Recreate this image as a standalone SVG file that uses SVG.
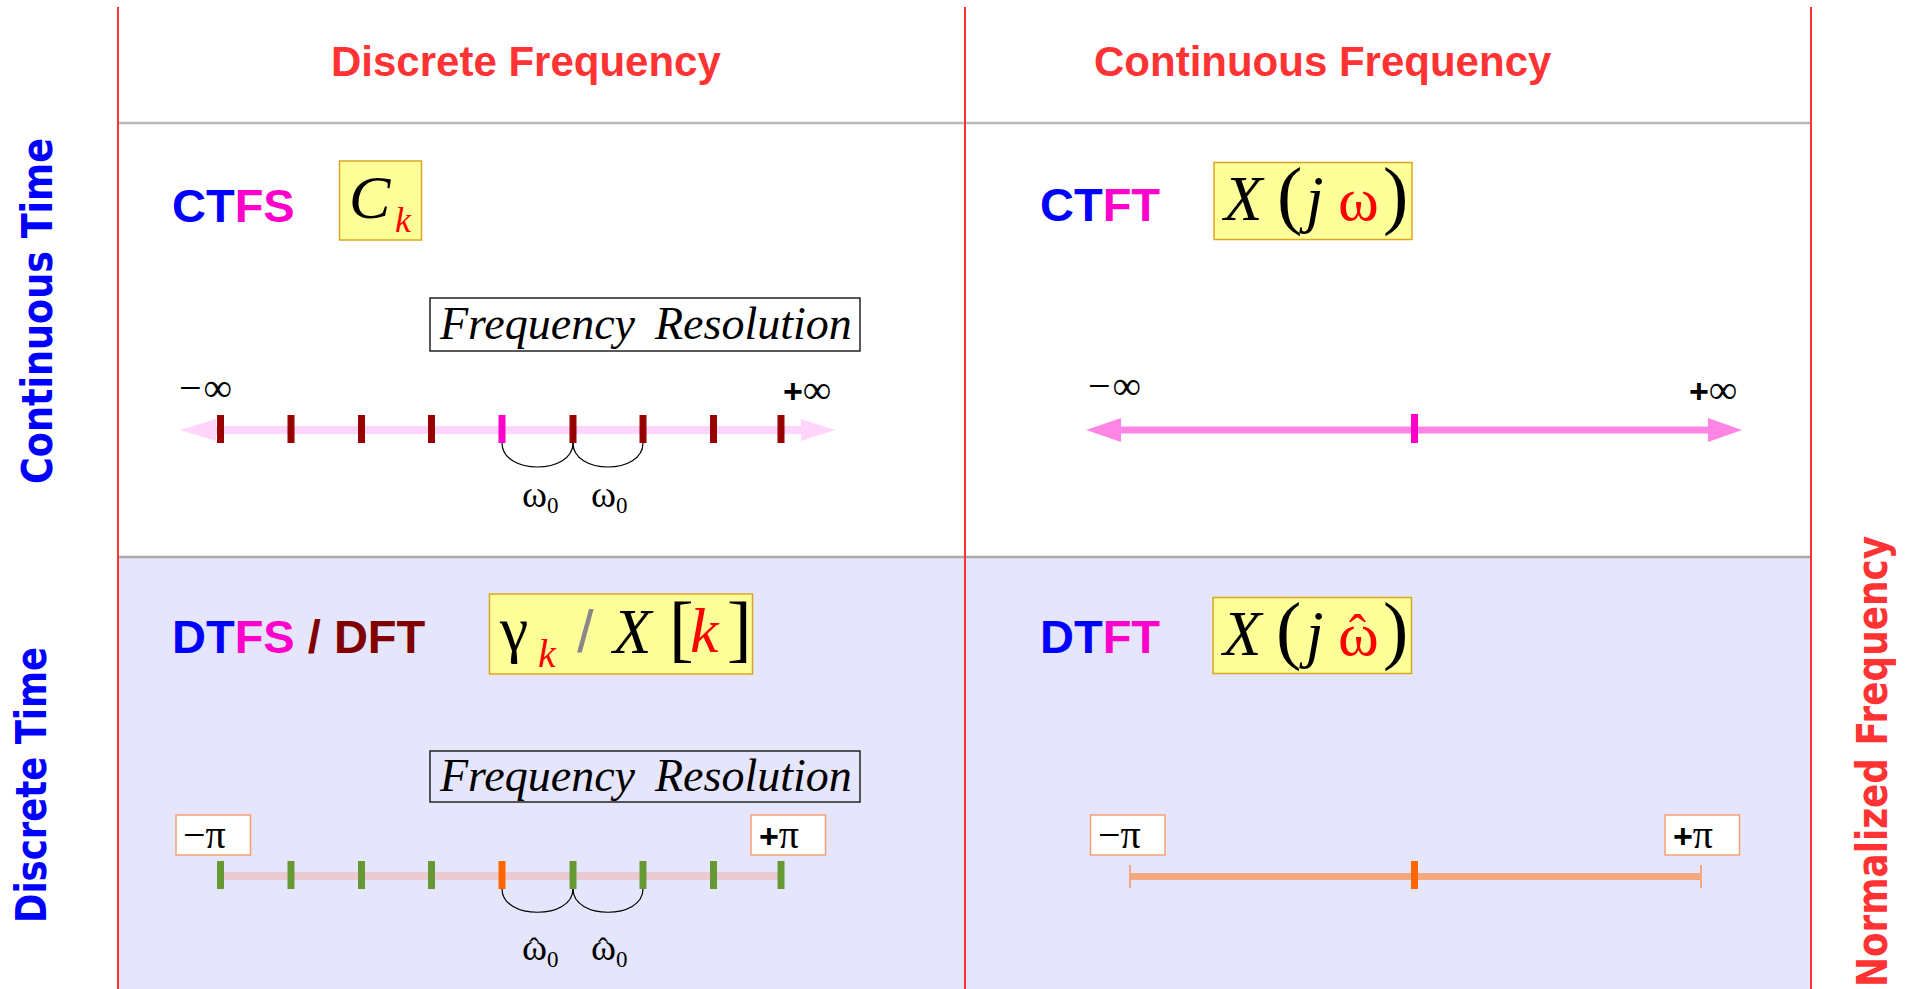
<svg xmlns="http://www.w3.org/2000/svg" width="1908" height="989" viewBox="0 0 1908 989">
<style>
.hdr{font-family:"Liberation Sans",Arial,sans-serif;font-weight:bold;font-size:42px;fill:#FF3333}
.side{font-family:"DejaVu Sans",Verdana,sans-serif;font-weight:bold;font-size:42px}
.name{font-family:"Liberation Sans",Arial,sans-serif;font-weight:bold;font-size:47px}
.m{font-family:"Liberation Serif","Times New Roman",serif}
.it{font-style:italic}
.eqbox{fill:#FFFF99;stroke:#DAA520;stroke-width:1.5}
.pibox{fill:#FFFFFF;stroke:#F7A070;stroke-width:1.5}
.frbox{fill:none;stroke:#222;stroke-width:1.5}
.blue{fill:#0000FF}.mag{fill:#FF00CC}.dred{fill:#800000}.red{fill:#FF0000}
.arc{fill:none;stroke:#000;stroke-width:1.2}
.plus{font-family:"Liberation Sans",Arial,sans-serif;font-weight:bold}
</style>
<rect x="0" y="0" width="1908" height="989" fill="#FFFFFF"/>
<rect x="118" y="557" width="1693" height="432" fill="#E5E5FB"/>
<g id="grid">
<line x1="118" y1="123" x2="1811" y2="123" stroke="#BBBBBB" stroke-width="2.5"/>
<line x1="118" y1="557" x2="1811" y2="557" stroke="#AAAAAA" stroke-width="2.5"/>
<line x1="118" y1="7" x2="118" y2="989" stroke="#FF3333" stroke-width="2"/>
<line x1="965" y1="7" x2="965" y2="989" stroke="#FF3333" stroke-width="2"/>
<line x1="1811" y1="7" x2="1811" y2="989" stroke="#FF3333" stroke-width="2"/>
</g>
<g id="headers">
<text class="hdr" x="331" y="76">Discrete Frequency</text>
<text class="hdr" x="1094" y="76">Continuous Frequency</text>
<text class="side" fill="#0000FF" transform="translate(52,484) rotate(-90)" textLength="346" lengthAdjust="spacingAndGlyphs">Continuous Time</text>
<text class="side" fill="#0000FF" transform="translate(46,923) rotate(-90)" textLength="276" lengthAdjust="spacingAndGlyphs">Discrete Time</text>
<text class="side" fill="#FF3333" transform="translate(1887,987) rotate(-90)" textLength="451" lengthAdjust="spacingAndGlyphs">Normalized Frequency</text>
</g>
<g id="ctfs">
<text class="name" x="172" y="222"><tspan class="blue">CT</tspan><tspan class="mag">FS</tspan></text>
<rect class="eqbox" x="339.5" y="161" width="82" height="79"/>
<text class="m it" x="349" y="218" font-size="62">C</text>
<text class="m it red" x="395" y="232" font-size="36">k</text>
<rect class="frbox" x="430" y="298" width="430" height="53"/>
<text class="m it" x="440" y="339" font-size="46">Frequency</text>
<text class="m it" x="655" y="339" font-size="46">Resolution</text>
<text class="m" x="179" y="401" font-size="40">−<tspan dx="2">∞</tspan></text>
<text class="m" x="783" y="403" font-size="40"><tspan class="plus" font-size="34">+</tspan>∞</text>
<line x1="214" y1="430" x2="803" y2="430" stroke="#FFD5FB" stroke-width="8"/>
<polygon points="180,430 216,419 216,441" fill="#FFD5FB"/>
<polygon points="835,430 801,419 801,441" fill="#FFD5FB"/>
<g fill="#990000">
<rect x="217" y="415" width="7" height="28"/>
<rect x="287.5" y="415" width="7" height="28"/>
<rect x="358" y="415" width="7" height="28"/>
<rect x="428" y="415" width="7" height="28"/>
<rect x="569.5" y="415" width="7" height="28"/>
<rect x="639.5" y="415" width="7" height="28"/>
<rect x="710" y="415" width="7" height="28"/>
<rect x="777.5" y="415" width="7" height="28"/>
</g>
<rect x="498.5" y="415" width="7" height="28" fill="#FF00CC"/>
<path class="arc" d="M502,443 C502,475 573,475 573,443"/>
<path class="arc" d="M573,443 C573,475 643,475 643,443"/>
<text class="m" x="522" y="507" font-size="38">ω<tspan font-size="23" dy="6">0</tspan></text>
<text class="m" x="591" y="507" font-size="38">ω<tspan font-size="23" dy="6">0</tspan></text>
</g>
<g id="ctft">
<text class="name" x="1040" y="221"><tspan class="blue">CT</tspan><tspan class="mag">FT</tspan></text>
<rect class="eqbox" x="1214" y="162.5" width="198" height="77"/>
<text class="m it" x="1224" y="220" font-size="63">X</text>
<text class="m" x="1277" y="220" font-size="76">(</text>
<text class="m it" x="1306" y="220" font-size="63">j</text>
<text class="m red" x="1338" y="220" font-size="62">ω</text>
<text class="m" x="1383" y="220" font-size="76">)</text>
<text class="m" x="1088" y="399" font-size="40">−<tspan dx="2">∞</tspan></text>
<text class="m" x="1689" y="403" font-size="40"><tspan class="plus" font-size="34">+</tspan>∞</text>
<line x1="1119" y1="430" x2="1711" y2="430" stroke="#FF85E5" stroke-width="7"/>
<polygon points="1086,430 1121,418 1121,442" fill="#FF85E5"/>
<polygon points="1742,430 1708,418 1708,442" fill="#FF85E5"/>
<rect x="1411" y="414" width="7" height="29" fill="#FF00CC"/>
</g>
<g id="dtfs">
<text class="name" x="172" y="653"><tspan class="blue">DT</tspan><tspan class="mag">FS</tspan><tspan class="dred"> / DFT</tspan></text>
<rect class="eqbox" x="489.5" y="594" width="263" height="80"/>
<text class="m" x="500" y="650" font-size="64">γ</text>
<text class="m it red" x="538" y="667" font-size="40">k</text>
<text x="577" y="652" font-size="60" font-family="Liberation Sans" fill="#888888">/</text>
<text class="m it" x="613" y="653" font-size="63">X</text>
<text class="m" x="669" y="653" font-size="74">[</text>
<text class="m it red" x="690" y="652" font-size="64">k</text>
<text class="m" x="727" y="653" font-size="74">]</text>
<rect class="frbox" x="430" y="751" width="430" height="51"/>
<text class="m it" x="440" y="791" font-size="46">Frequency</text>
<text class="m it" x="655" y="791" font-size="46">Resolution</text>
<rect class="pibox" x="176" y="815" width="74.5" height="40"/>
<text class="m" x="183" y="848" font-size="40">−π</text>
<rect class="pibox" x="751" y="815" width="74.5" height="40"/>
<text class="m" x="759" y="848" font-size="40"><tspan class="plus" font-size="34">+</tspan>π</text>
<line x1="220" y1="876" x2="781" y2="876" stroke="#EBCBD3" stroke-width="8"/>
<g fill="#669933">
<rect x="217" y="861" width="7" height="28"/>
<rect x="287.5" y="861" width="7" height="28"/>
<rect x="358" y="861" width="7" height="28"/>
<rect x="428" y="861" width="7" height="28"/>
<rect x="569.5" y="861" width="7" height="28"/>
<rect x="639.5" y="861" width="7" height="28"/>
<rect x="710" y="861" width="7" height="28"/>
<rect x="777.5" y="861" width="7" height="28"/>
</g>
<rect x="498.5" y="861" width="7" height="28" fill="#FF6600"/>
<path class="arc" d="M502,889 C502,920 573,920 573,889"/>
<path class="arc" d="M573,889 C573,920 643,920 643,889"/>
<text class="m" x="522" y="960" font-size="38">ω<tspan font-size="30" dx="-18" dy="-2">ˆ</tspan><tspan font-size="23" dx="8" dy="9">0</tspan></text>
<text class="m" x="591" y="960" font-size="38">ω<tspan font-size="30" dx="-18" dy="-2">ˆ</tspan><tspan font-size="23" dx="8" dy="9">0</tspan></text>
</g>
<g id="dtft">
<text class="name" x="1040" y="653"><tspan class="blue">DT</tspan><tspan class="mag">FT</tspan></text>
<rect class="eqbox" x="1213" y="597.5" width="198.5" height="76"/>
<text class="m it" x="1223" y="655" font-size="63">X</text>
<text class="m" x="1276" y="655" font-size="76">(</text>
<text class="m it" x="1306" y="655" font-size="63">j</text>
<text class="m red" x="1338" y="655" font-size="62">ω<tspan font-size="52" dx="-30" dy="-4">ˆ</tspan></text>
<text class="m" x="1383" y="655" font-size="76">)</text>
<rect class="pibox" x="1090.5" y="815" width="74.5" height="40"/>
<text class="m" x="1098" y="848" font-size="40">−π</text>
<rect class="pibox" x="1665" y="815" width="74.5" height="40"/>
<text class="m" x="1673" y="848" font-size="40"><tspan class="plus" font-size="34">+</tspan>π</text>
<line x1="1130" y1="876.5" x2="1701" y2="876.5" stroke="#F4A880" stroke-width="7"/>
<line x1="1130" y1="865" x2="1130" y2="888" stroke="#F4A880" stroke-width="2"/>
<line x1="1701" y1="865" x2="1701" y2="888" stroke="#F4A880" stroke-width="2"/>
<rect x="1411" y="861" width="7" height="28" fill="#FF6600"/>
</g>
</svg>
